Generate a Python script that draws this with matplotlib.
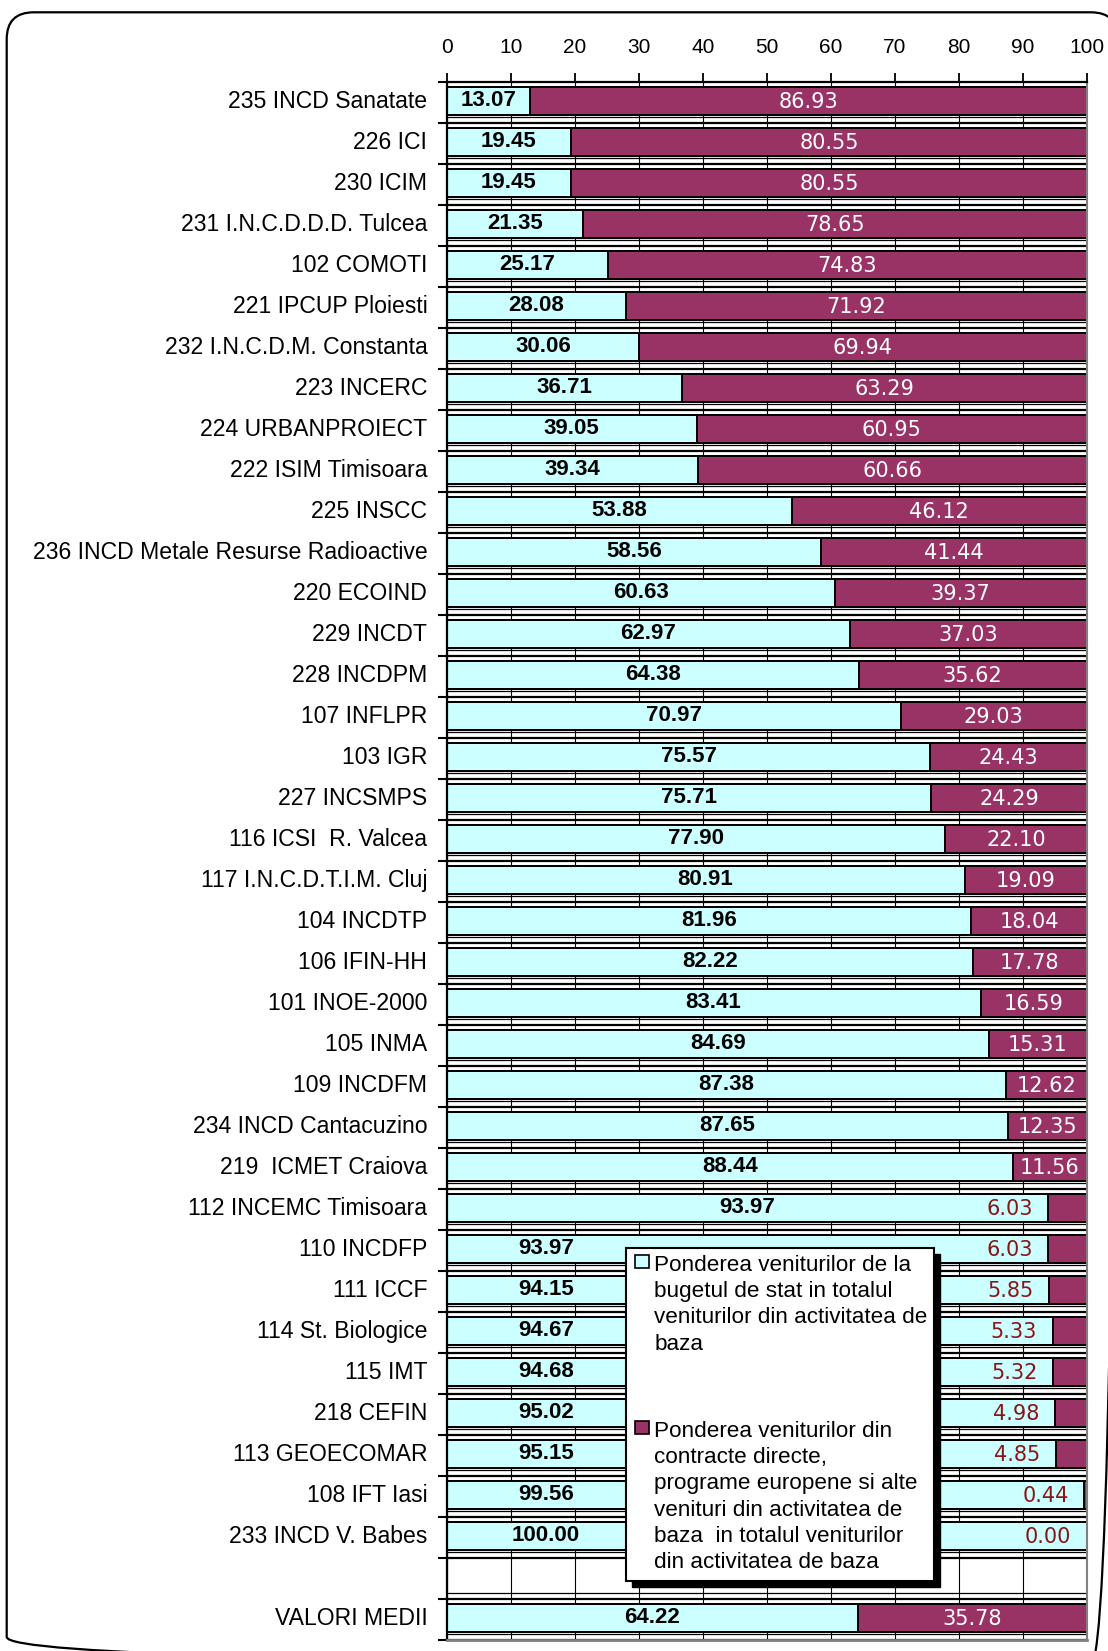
import matplotlib
matplotlib.use("Agg")
import matplotlib.pyplot as plt
from matplotlib.patches import Rectangle, FancyBboxPatch
import numpy as np

# ---------------- data ----------------
names = ["235 INCD Sanatate", "226 ICI", "230 ICIM", "231 I.N.C.D.D.D. Tulcea",
         "102 COMOTI", "221 IPCUP Ploiesti", "232 I.N.C.D.M. Constanta", "223 INCERC",
         "224 URBANPROIECT", "222 ISIM Timisoara", "225 INSCC",
         "236 INCD Metale Resurse Radioactive", "220 ECOIND", "229 INCDT", "228 INCDPM",
         "107 INFLPR", "103 IGR", "227 INCSMPS", "116 ICSI  R. Valcea",
         "117 I.N.C.D.T.I.M. Cluj", "104 INCDTP", "106 IFIN-HH", "101 INOE-2000",
         "105 INMA", "109 INCDFM", "234 INCD Cantacuzino", "219  ICMET Craiova",
         "112 INCEMC Timisoara", "110 INCDFP", "111 ICCF", "114 St. Biologice",
         "115 IMT", "218 CEFIN", "113 GEOECOMAR", "108 IFT Iasi", "233 INCD V. Babes"]
state = [13.07, 19.45, 19.45, 21.35, 25.17, 28.08, 30.06, 36.71, 39.05, 39.34, 53.88,
         58.56, 60.63, 62.97, 64.38, 70.97, 75.57, 75.71, 77.90, 80.91, 81.96, 82.22,
         83.41, 84.69, 87.38, 87.65, 88.44, 93.97, 93.97, 94.15, 94.67, 94.68, 95.02,
         95.15, 99.56, 100.00]
direct = [86.93, 80.55, 80.55, 78.65, 74.83, 71.92, 69.94, 63.29, 60.95, 60.66, 46.12,
          41.44, 39.37, 37.03, 35.62, 29.03, 24.43, 24.29, 22.10, 19.09, 18.04, 17.78,
          16.59, 15.31, 12.62, 12.35, 11.56, 6.03, 6.03, 5.85, 5.33, 5.32, 4.98, 4.85,
          0.44, 0.00]
avg_name = "VALORI MEDII"
avg_state = 64.22
avg_direct = 35.78
x_ticks = list(range(0, 101, 10))
legend_state = ["Ponderea veniturilor de la", "bugetul de stat in totalul",
                "veniturilor din activitatea de", "baza"]
legend_direct = ["Ponderea veniturilor din", "contracte directe,",
                 "programe europene si alte", "venituri din activitatea de",
                 "baza  in totalul veniturilor", "din activitatea de baza"]

# ---------------- style ----------------
CYAN = "#CCFFFF"
PURPLE = "#993366"
DARKRED = "#8B1414"
SANS = "Liberation Sans"
W, H = 1108, 1651

fig = plt.figure(figsize=(W / 100, H / 100), dpi=100)
fig.patch.set_facecolor("white")

ax_l, ax_r, ax_t, ax_b = 446.7, 1086.7, 81.7, 1639.7
ax = fig.add_axes([ax_l / W, 1 - ax_b / H, (ax_r - ax_l) / W, (ax_b - ax_t) / H])

n = len(names)
ypos = np.arange(n)
avg_pos = n + 1
n_slots = n + 2
bar_h = 0.69
off = -0.034

ax.set_axisbelow(True)
ax.xaxis.grid(True, color="black", lw=0.8)

edge_lw = 1.44
ax.barh(ypos + off, state, height=bar_h, color=CYAN, edgecolor="black", lw=edge_lw, zorder=2)
ax.barh(ypos + off, direct, left=state, height=bar_h, color=PURPLE, edgecolor="black",
        lw=edge_lw, zorder=2)
ax.barh([avg_pos + off], [avg_state], height=bar_h, color=CYAN, edgecolor="black",
        lw=edge_lw, zorder=2)
ax.barh([avg_pos + off], [avg_direct], left=[avg_state], height=bar_h, color=PURPLE,
        edgecolor="black", lw=edge_lw, zorder=2)

# category boundary lines (double lines)
bounds = np.arange(-0.5, n_slots, 1.0)
for b in bounds[1:]:
    ax.axhline(b, color="black", lw=1.6, zorder=1.5)
    ax.axhline(b - 0.13, color="black", lw=0.9, zorder=1.5)

ax.set_xlim(0, 100)
ax.set_ylim(n_slots - 0.5, -0.5)

ax.xaxis.tick_top()
ax.set_xticks(x_ticks)
ax.set_xticklabels([str(t) for t in x_ticks], fontsize=15, family=SANS)
ax.tick_params(axis="x", which="major", direction="out", length=6.5, width=1.3, pad=11,
               top=True, bottom=False)

label_shift = off - 0.05
ax.set_yticks(list(ypos + label_shift) + [avg_pos + label_shift])
ax.set_yticklabels(names + [avg_name], fontsize=16.6, family=SANS)
ax.set_yticks(bounds, minor=True)
ax.tick_params(axis="y", which="major", length=0, pad=14)
ax.tick_params(axis="y", which="minor", direction="out", length=6.5, width=1.5, left=True)

for side in ("top", "left"):
    ax.spines[side].set_color("black")
    ax.spines[side].set_linewidth(1.6)
ax.spines["right"].set_color("#808080")
ax.spines["right"].set_linewidth(1.5)
ax.spines["bottom"].set_color("#808080")
ax.spines["bottom"].set_linewidth(2)

# ---------------- value labels ----------------
covered_rows = range(28, n)   # rows whose state label sits left of the legend
covered_x = 15.5

def label_row(y, s, d, covered=False):
    sx = covered_x if covered else s / 2
    ax.text(sx, y + off, f"{s:.2f}", ha="center", va="center", fontsize=16,
            fontweight="bold", family=SANS, color="black", zorder=3)
    if d >= 10:
        ax.text(s + d / 2, y + off + 0.04, f"{d:.2f}", ha="center", va="center",
                fontsize=15, family="DejaVu Sans", color="white", zorder=3)
    else:
        ax.text(s - 2.4, y + off + 0.04, f"{d:.2f}", ha="right", va="center",
                fontsize=15, family="DejaVu Sans", color=DARKRED, zorder=3)

for i in range(n):
    label_row(ypos[i], state[i], direct[i], covered=(i in covered_rows))
label_row(avg_pos, avg_state, avg_direct)

# ---------------- overlay in pixel coordinates: legend + frame ----------------
ov = fig.add_axes([0, 0, 1, 1], zorder=10)
ov.set_xlim(0, W)
ov.set_ylim(H, 0)
ov.axis("off")
ov.patch.set_alpha(0)

lx0, lx1, ly0, ly1 = 625.6, 934.0, 1248.0, 1581.0
ov.add_patch(Rectangle((lx0 + 6, ly0 + 6), lx1 - lx0, ly1 - ly0,
                       facecolor="black", edgecolor="black", zorder=1))
ov.add_patch(Rectangle((lx0, ly0), lx1 - lx0, ly1 - ly0,
                       facecolor="white", edgecolor="black", lw=1.5, zorder=2))

text_x = 654.5
line_step = 26.2
entries = [(legend_state, CYAN, 1271.0), (legend_direct, PURPLE, 1437.0)]
for lines, col, base0 in entries:
    mc = base0 - 9.5
    ov.add_patch(Rectangle((635, mc - 6.5), 13.5, 13,
                           facecolor=col, edgecolor="black", lw=1.2, zorder=3))
    for k, line in enumerate(lines):
        ov.text(text_x, base0 + k * line_step, line, ha="left", va="baseline",
                fontsize=16.2, family=SANS, color="black", zorder=4)

fx0, fx1, fy0, fy1 = 6.7, 1118.0, 12.3, 1664.0
ov.add_patch(FancyBboxPatch((fx0, fy0), fx1 - fx0, fy1 - fy0,
                            boxstyle="round,pad=0,rounding_size=27",
                            fill=False, edgecolor="black", lw=1.6, zorder=5,
                            clip_on=False))

fig.savefig("out.png", dpi=100)
